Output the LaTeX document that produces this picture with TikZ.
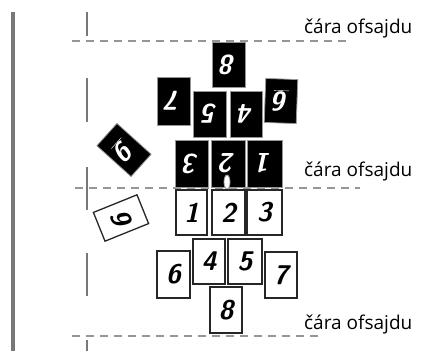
\documentclass[tikz,border=0pt]{standalone}
\usepackage{fontspec}
\newfontfamily\labelfont{Open Sans}
\usepackage{xcolor}
\definecolor{fieldgray}{RGB}{120,120,120}
\definecolor{linegray}{RGB}{150,150,150}
\usetikzlibrary{shapes.geometric}

\tikzset{
  player/.style={rectangle, inner sep=0pt, minimum width=33pt, minimum height=45pt,
                 font=\fontsize{27}{27}\selectfont\sffamily\bfseries\slshape},
  whiteplayer/.style={player, draw=black!85, line width=1.3pt, fill=white, text=black},
  blackplayer/.style={player, draw=linegray, line width=0.8pt, fill=black, text=white, rotate=180},
  offsideline/.style={draw=linegray, line width=1.2pt, dash pattern=on 8pt off 6pt},
  fieldmark/.style={draw=fieldgray, line width=2.6pt},
  offsidelabel/.style={anchor=base west, inner sep=0pt, font=\fontsize{19}{19}\selectfont\labelfont}
}

\begin{document}
\begin{tikzpicture}[x=1pt, y=-1pt]
  \useasboundingbox (0,0) rectangle (423,351);

  % side line and halfway ticks
  \draw[fieldmark, line width=3.6pt] (13,12) -- (13,351);
  \draw[fieldmark] (87,12) -- (87,36);
  \draw[fieldmark] (87,78) -- (87,122);
  \draw[fieldmark] (87,167) -- (87,210);
  \draw[fieldmark] (87,253) -- (87,296);
  \draw[fieldmark] (87,340) -- (87,351);

  % offside lines
  \draw[offsideline] (72,41) -- (350,41);
  \draw[offsideline] (75,188) -- (360,188);
  \draw[offsideline] (72,336) -- (322,336);

  \node[offsidelabel] (label1) at (304,33) {čára ofsajdu};
  \node[offsidelabel] (label2) at (304,176) {čára ofsajdu};
  \node[offsidelabel] (label3) at (304,329) {čára ofsajdu};

  % black team (upside down)
  \node[blackplayer] (b8) at (228.5,64.5) {8};
  \node[blackplayer, minimum height=48pt] (b7) at (173.5,101) {7};
  \node[blackplayer, minimum height=46pt] (b5) at (210,114) {5};
  \node[blackplayer, minimum width=32pt, minimum height=46pt] (b4) at (246,114) {4};
  \node[blackplayer, minimum width=32pt, minimum height=44pt, rotate=-2] (b6) at (281,101) {\underline{6}};
  \node[blackplayer, minimum height=47pt] (b3) at (191.5,163.5) {3};
  \node[blackplayer, minimum width=34pt, minimum height=47pt] (b2) at (228,163.5) {2};
  \node[blackplayer, minimum width=35pt, minimum height=47pt] (b1) at (264.5,163.5) {1};
  \node[blackplayer, minimum width=30pt, minimum height=46pt, rotate=48] (b9) at (124,150) {\underline{9}};

  % ball
  \draw[fill=white, draw=linegray, line width=0.8pt] (227,182) ellipse (3pt and 7pt);

  % white team
  \node[whiteplayer, minimum width=31pt] (w1) at (191.5,212.5) {1};
  \node[whiteplayer] (w2) at (228.5,212.5) {2};
  \node[whiteplayer, minimum width=35pt] (w3) at (264.5,212.5) {3};
  \node[whiteplayer, minimum width=31pt, minimum height=47pt, rotate=-68] (w9) at (121,218) {9};
  \node[whiteplayer, minimum height=47pt] (w6) at (173.5,274.5) {6};
  \node[whiteplayer, minimum width=32pt] (w4) at (209,261.5) {4};
  \node[whiteplayer, minimum width=34pt] (w5) at (245,261.5) {5};
  \node[whiteplayer, minimum width=32pt, minimum height=46pt] (w7) at (281,275) {7};
  \node[whiteplayer, minimum width=32pt, minimum height=46pt] (w8) at (226,310) {8};
\end{tikzpicture}
\end{document}
